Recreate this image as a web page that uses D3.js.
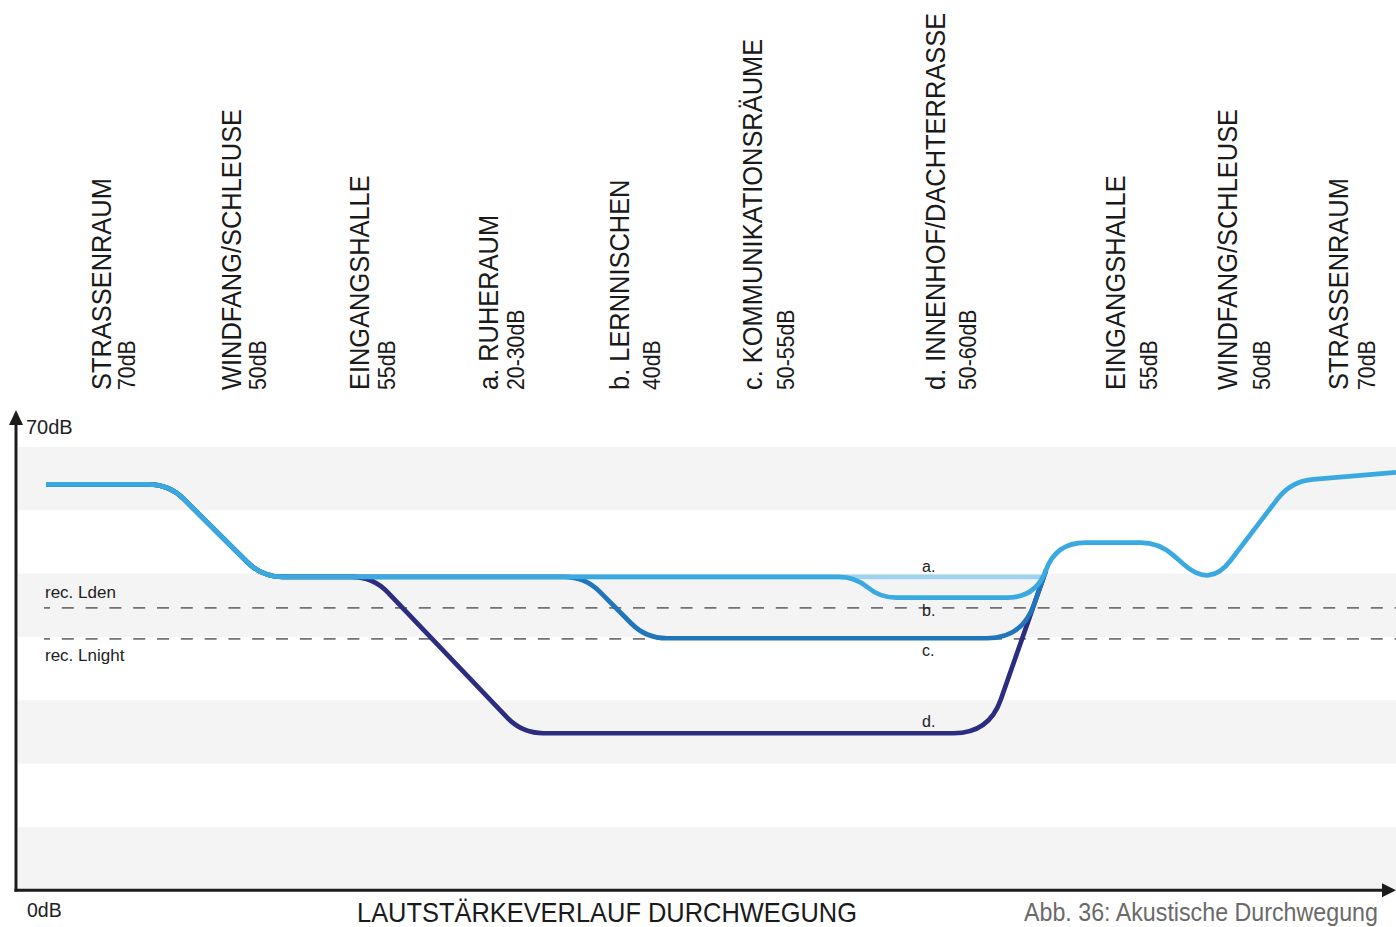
<!DOCTYPE html>
<html>
<head>
<meta charset="utf-8">
<script src="https://cdn.jsdelivr.net/npm/d3@7"></script>
<style>
  html, body { margin: 0; padding: 0; background: #fff; }
  svg { display: block; }
  text { font-family: "Liberation Sans", Arial, Helvetica, sans-serif; }
</style>
</head>
<body>
<svg id="chart" width="1396" height="927"></svg>
<script>
// Stationen entlang der Durchwegung (Position in m entlang des Weges)
const stations = ["STRASSENRAUM", "WINDFANG/SCHLEUSE", "EINGANGSHALLE", "a. RUHERAUM", "b. LERNNISCHEN",
                  "c. KOMMUNIKATIONSRÄUME", "d. INNENHOF/DACHTERRASSE", "EINGANGSHALLE", "WINDFANG/SCHLEUSE", "STRASSENRAUM"];
const stationLevels = ["70dB", "50dB", "55dB", "20-30dB", "40dB", "50-55dB", "50-60dB", "55dB", "50dB", "70dB"];
const stationAt = [9.5, 22.5, 35.3, 48.2, 61.3, 74.6, 92.9, 110.9, 122.1, 133.2];
const levelAt   = [11.9, 25.0, 37.9, 50.8, 64.4, 77.8, 96.0, 114.1, 125.4, 135.9];

// Pegelverlauf je Route: [Position, dB]
const sharedStart = [[3.0, 64.1], [15.3, 64.1], [24.6, 49.5]];
const routeA = [[102.7, 49.5]];
const routeB = [[83.9, 49.5], [86.4, 46.2], [102.0, 46.2], [104.0, 54.9], [114.3, 54.9], [119.4, 47.8], [127.5, 64.6], [138.0, 66.0]];
const routeC = [[56.9, 49.5], [63.0, 39.8], [100.6, 39.8], [103.0, 50.5]];
const routeD = [[35.7, 49.5], [50.6, 24.8], [97.3, 24.8], [103.0, 50.5]];

const routeNames  = ["a.", "b.", "c.", "d."];
const routeColors = ["#9fd2ee", "#3aa9e0", "#2175bb", "#2c2c80"];
const routeLabelAt = 90.6;

// Empfohlene Grenzwerte
const limitNames  = ["rec. Lden", "rec. Lnight"];
const limitValues = [44.6, 39.7];

// Achsenbeschriftung
const yTickLabels = ["0dB", "70dB"];
const bandEdges = [[60, 70], [40, 50], [20, 30], [0, 10]];

const W = 1396, H = 927;
const svg = d3.select("#chart");

const x = d3.scaleLinear().domain([0, 138]).range([16, 1396]);
const y = d3.scaleLinear().domain([0, 70]).range([890.3, 447]);

// Hintergrundbänder
svg.append("g").selectAll("rect").data(bandEdges).join("rect")
  .attr("x", 18).attr("width", W - 18)
  .attr("y", d => y(d[1])).attr("height", d => y(d[0]) - y(d[1]))
  .attr("fill", "#f4f4f4");

// Grenzwertlinien
const lim = svg.append("g");
lim.selectAll("line").data(limitValues).join("line")
  .attr("x1", 44).attr("x2", W)
  .attr("y1", d => y(d)).attr("y2", d => y(d))
  .attr("stroke", "#727272").attr("stroke-width", 1.6)
  .attr("stroke-dasharray", "12 11.8").attr("stroke-dashoffset", 6);
lim.selectAll("text").data(limitNames).join("text")
  .attr("x", 45)
  .attr("y", (d, i) => i === 0 ? y(limitValues[i]) - 10 : y(limitValues[i]) + 22)
  .attr("font-size", 17).attr("fill", "#222")
  .text(d => d);

// Linien mit abgerundeten Ecken
function roundedLine(pts, R) {
  const p = d3.path();
  p.moveTo(pts[0][0], pts[0][1]);
  for (let i = 1; i < pts.length - 1; i++) {
    const [x0, y0] = pts[i - 1], [x1, y1] = pts[i], [x2, y2] = pts[i + 1];
    const l1 = Math.hypot(x1 - x0, y1 - y0), l2 = Math.hypot(x2 - x1, y2 - y1);
    const ux1 = (x1 - x0) / l1, uy1 = (y1 - y0) / l1, ux2 = (x2 - x1) / l2, uy2 = (y2 - y1) / l2;
    const th = Math.acos(Math.max(-1, Math.min(1, ux1 * ux2 + uy1 * uy2)));
    const t = Math.min(R * Math.tan(th / 2), l1 / 2, l2 / 2);
    if (t < 0.5) { p.lineTo(x1, y1); continue; }
    p.lineTo(x1 - ux1 * t, y1 - uy1 * t);
    p.quadraticCurveTo(x1, y1, x1 + ux2 * t, y1 + uy2 * t);
  }
  const last = pts[pts.length - 1];
  p.lineTo(last[0], last[1]);
  return p.toString();
}

const routes = [routeA, routeB, routeC, routeD].map(r => sharedStart.concat(r));
const drawOrder = [0, 3, 2, 1];
svg.append("g").selectAll("path").data(drawOrder).join("path")
  .attr("d", i => roundedLine(routes[i].map(d => [x(d[0]), y(d[1])]), 50))
  .attr("fill", "none")
  .attr("stroke", i => routeColors[i])
  .attr("stroke-width", 4.7)
  .attr("stroke-linejoin", "round");

// Routenbeschriftung a.–d.
const labelLevels = [49.5, 46.2, 39.8, 24.8];
const labelShift = [-5, 18, 18, -6];
svg.append("g").selectAll("text").data(routeNames).join("text")
  .attr("x", x(routeLabelAt))
  .attr("y", (d, i) => y(labelLevels[i]) + labelShift[i])
  .attr("font-size", 16).attr("fill", "#222")
  .text(d => d);

// Achsen
const axes = svg.append("g");
axes.append("line").attr("x1", 16).attr("x2", 16).attr("y1", y(0) + 1.5).attr("y2", 420)
  .attr("stroke", "#1c1c1c").attr("stroke-width", 3);
axes.append("path").attr("d", "M16,410 L9,425 L23,425 Z").attr("fill", "#1c1c1c");
axes.append("line").attr("x1", 14.5).attr("x2", 1386).attr("y1", y(0)).attr("y2", y(0))
  .attr("stroke", "#1c1c1c").attr("stroke-width", 3);
axes.append("path").attr("d", `M1396,${y(0)} L1382,${y(0) - 7} L1382,${y(0) + 7} Z`).attr("fill", "#1c1c1c");

axes.append("text").attr("x", 26).attr("y", y(70) - 13).attr("font-size", 20).attr("fill", "#222").text(yTickLabels[1]);
axes.append("text").attr("x", 27).attr("y", y(0) + 27).attr("font-size", 19.5).attr("fill", "#222").text(yTickLabels[0]);

// Stationsbeschriftung (senkrecht)
const st = svg.append("g");
st.selectAll("text.name").data(stations).join("text").attr("class", "name")
  .attr("transform", (d, i) => `translate(${x(stationAt[i])},390) rotate(-90) scale(0.925,1)`)
  .attr("font-size", 27.5).attr("fill", "#1a1a1a")
  .text(d => d);
st.selectAll("text.level").data(stationLevels).join("text").attr("class", "level")
  .attr("transform", (d, i) => `translate(${x(levelAt[i])},390) rotate(-90) scale(0.925,1)`)
  .attr("font-size", 23).attr("fill", "#1a1a1a")
  .text(d => d);

// Titel und Abbildungsnummer
svg.append("text").attr("transform", "translate(357,922) scale(0.925,1)")
  .attr("font-size", 27.5).attr("fill", "#1a1a1a").text("LAUTSTÄRKEVERLAUF DURCHWEGUNG");
svg.append("text").attr("transform", "translate(1024,921) scale(0.93,1)")
  .attr("font-size", 25).attr("fill", "#6a6a6a").text("Abb. 36: Akustische Durchwegung");
</script>
</body>
</html>
